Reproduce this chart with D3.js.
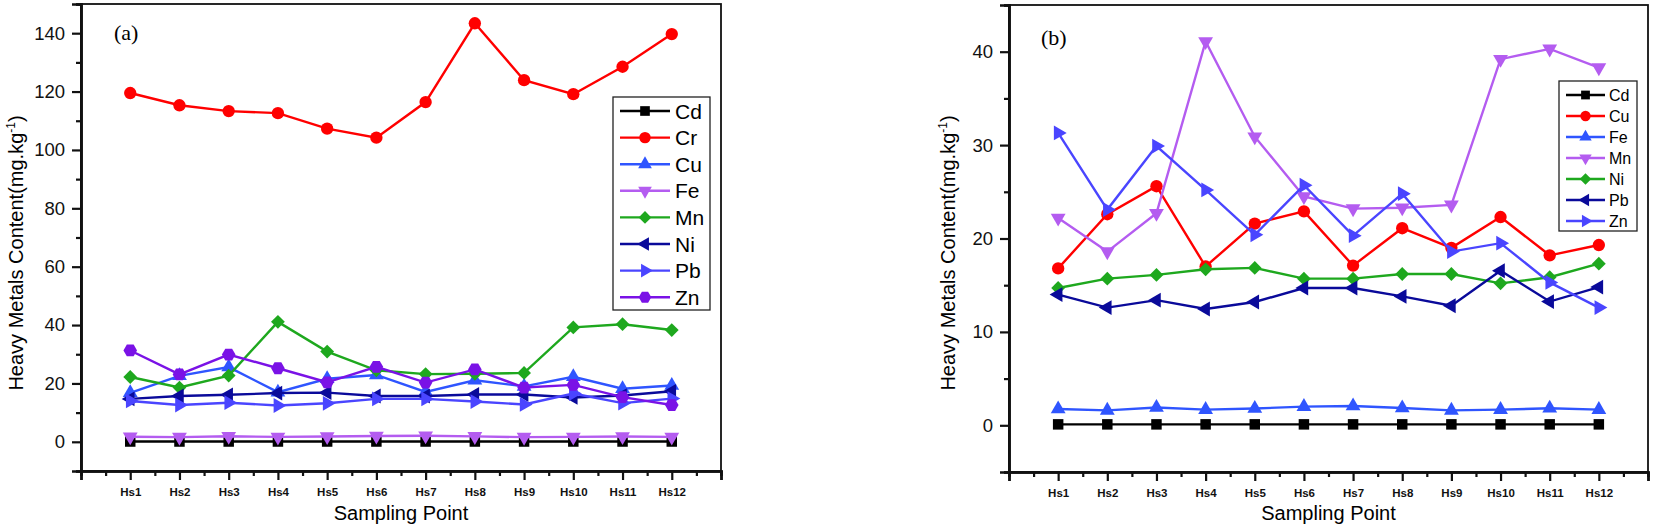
<!DOCTYPE html>
<html>
<head>
<meta charset="utf-8">
<script src="https://cdn.jsdelivr.net/npm/d3@7"></script>
<style>
  body { margin: 0; background: #fff; }
  svg { display: block; font-family: "Liberation Sans", Arial, sans-serif; }
</style>
</head>
<body>
<svg id="chart" width="1654" height="532"></svg>
<script>
// sampling points and measured contents (mg/kg)
const points = ["Hs1", "Hs2", "Hs3", "Hs4", "Hs5", "Hs6", "Hs7", "Hs8", "Hs9", "Hs10", "Hs11", "Hs12"];
const cd = [0.1, 0.1, 0.1, 0.1, 0.1, 0.1, 0.1, 0.1, 0.1, 0.1, 0.1, 0.1];
const cr = [119.5, 115.3, 113.3, 112.6, 107.3, 104.2, 116.4, 143.4, 123.9, 119.1, 128.5, 139.7];
const cu = [16.8, 22.6, 25.6, 17.0, 21.6, 22.9, 17.1, 21.1, 19.0, 22.3, 18.2, 19.3];
const fe = [1.75, 1.6, 1.9, 1.68, 1.8, 2.0, 2.07, 1.86, 1.6, 1.68, 1.82, 1.68];
const mn = [22.2, 18.6, 22.7, 41.1, 30.9, 24.5, 23.2, 23.3, 23.6, 39.2, 40.3, 38.3];
const ni = [14.7, 15.7, 16.1, 16.7, 16.85, 15.7, 15.7, 16.2, 16.2, 15.2, 15.85, 17.3];
const pb = [14.0, 12.6, 13.4, 12.45, 13.2, 14.7, 14.7, 13.8, 12.8, 16.55, 13.25, 14.8];
const zn = [31.3, 23.1, 29.9, 25.2, 20.4, 25.7, 20.3, 24.8, 18.6, 19.5, 15.3, 12.6];

const seriesA = [["Cd", cd], ["Cr", cr], ["Cu", cu], ["Fe", fe], ["Mn", mn], ["Ni", ni], ["Pb", pb], ["Zn", zn]];
const seriesB = [["Cd", cd], ["Cu", cu], ["Fe", fe], ["Mn", mn], ["Ni", ni], ["Pb", pb], ["Zn", zn]];

// Origin style cycle: colour + marker, in plot order
const styleCycle = [
    { color: "#000000", shape: "square" },
    { color: "#ff0000", shape: "circle" },
    { color: "#2f55ff", shape: "up" },
    { color: "#b45cf0", shape: "down" },
    { color: "#1ea81e", shape: "diamond" },
    { color: "#0a0a9a", shape: "left" },
    { color: "#4a45ff", shape: "right" },
    { color: "#7a12e6", shape: "hexagon" }
];

const hexagon = {
    draw(ctx, size) {
        const r = Math.sqrt(size / 2.598);
        for (let i = 0; i < 6; i++) {
            const a = Math.PI / 3 * i;
            const px = r * Math.cos(a), py = r * Math.sin(a);
            if (i === 0) ctx.moveTo(px, py); else ctx.lineTo(px, py);
        }
        ctx.closePath();
    }
};

function markerPath(shape, k) {
    const s = k || 1;
    switch (shape) {
        case "square": return { d: d3.symbol(d3.symbolSquare, 110 * s)(), rot: 0 };
        case "circle": return { d: d3.symbol(d3.symbolCircle, 120 * s)(), rot: 0 };
        case "up": return { d: d3.symbol(d3.symbolTriangle, 95 * s)(), rot: 0 };
        case "down": return { d: d3.symbol(d3.symbolTriangle, 95 * s)(), rot: 180 };
        case "left": return { d: d3.symbol(d3.symbolTriangle, 95 * s)(), rot: -90 };
        case "right": return { d: d3.symbol(d3.symbolTriangle, 95 * s)(), rot: 90 };
        case "diamond": return { d: d3.symbol(d3.symbolSquare, 95 * s)(), rot: 45 };
        case "hexagon": return { d: d3.symbol(hexagon, 120 * s)(), rot: 0 };
    }
}

const svg = d3.select("#chart");

function drawPanel(cfg) {
    const { x0, x1, y0, y1 } = cfg;
    const g = svg.append("g");

    const x = d3.scaleLinear().domain([0, 13]).range([x0, x1]);
    const y = d3.scaleLinear().domain(cfg.yDomain).range([y1, y0]);

    // frame
    g.append("rect")
        .attr("x", x0).attr("y", y0)
        .attr("width", x1 - x0).attr("height", y1 - y0)
        .attr("fill", "none").attr("stroke", "#111").attr("stroke-width", 1.8);

    // x axis: major ticks at each point, minor at halves
    const xAxis = d3.axisBottom(x)
        .tickValues(d3.range(0, 14))
        .tickSize(9)
        .tickFormat(i => (i >= 1 && i <= 12) ? points[i - 1] : "");
    const gx = g.append("g").attr("transform", `translate(0,${y1})`).call(xAxis);
    gx.selectAll(".tick text")
        .attr("dy", "0")
        .attr("y", 25)
        .style("font-size", "11.5px")
        .style("font-weight", "bold")
        .attr("fill", "#111");
    g.append("g").attr("transform", `translate(0,${y1})`)
        .call(d3.axisBottom(x).tickValues(d3.range(0.5, 13, 1)).tickSize(5).tickFormat(""));

    // y axis
    const yAxis = d3.axisLeft(y).tickValues(cfg.yMajor).tickSize(9).tickPadding(7);
    const gy = g.append("g").attr("transform", `translate(${x0},0)`).call(yAxis);
    gy.selectAll(".tick text").style("font-size", "18.5px").attr("fill", "#111");
    g.append("g").attr("transform", `translate(${x0},0)`)
        .call(d3.axisLeft(y).tickValues(cfg.yMinor).tickSize(5).tickFormat(""));

    g.selectAll(".domain").attr("stroke", "#111").attr("stroke-width", 2.6);
    g.selectAll(".tick line").attr("stroke", "#111").attr("stroke-width", 2.2);

    // axis titles
    g.append("text")
        .attr("x", (x0 + x1) / 2).attr("y", 520)
        .attr("text-anchor", "middle")
        .style("font-size", "20px")
        .text("Sampling Point");

    const yl = g.append("text")
        .attr("transform", `translate(${cfg.yLabelX},253) rotate(-90)`)
        .attr("text-anchor", "middle")
        .style("font-size", "20px");
    yl.append("tspan").text("Heavy Metals Content(mg.kg");
    yl.append("tspan").attr("dy", -8).style("font-size", "12px").text("-1");
    yl.append("tspan").attr("dy", 8).text(")");

    // panel tag
    g.append("text")
        .attr("x", cfg.tagX).attr("y", cfg.tagY)
        .style("font-family", "'Liberation Serif', 'Times New Roman', serif")
        .style("font-size", "22px")
        .text(cfg.tag);

    // series
    const line = d3.line().x((d, i) => x(i + 1)).y(d => y(d));
    cfg.series.forEach(([name, values], si) => {
        const st = styleCycle[si];
        g.append("path")
            .attr("d", line(values))
            .attr("fill", "none")
            .attr("stroke", st.color)
            .attr("stroke-width", 2.4);
        const m = markerPath(st.shape);
        g.selectAll(null).data(values).enter().append("path")
            .attr("d", m.d)
            .attr("transform", (d, i) => `translate(${x(i + 1)},${y(d)}) rotate(${m.rot})`)
            .attr("fill", st.color);
    });

    // legend
    const L = cfg.legend;
    const lg = g.append("g");
    lg.append("rect")
        .attr("x", L.x).attr("y", L.y)
        .attr("width", L.w).attr("height", L.h)
        .attr("fill", "#fff").attr("stroke", "#222").attr("stroke-width", 1.3);
    cfg.series.forEach(([name], si) => {
        const st = styleCycle[si];
        const cy = L.y0 + si * L.step;
        lg.append("line")
            .attr("x1", L.lx1).attr("x2", L.lx2)
            .attr("y1", cy).attr("y2", cy)
            .attr("stroke", st.color).attr("stroke-width", 2.4);
        const m = markerPath(st.shape, L.mk);
        lg.append("path")
            .attr("d", m.d)
            .attr("transform", `translate(${(L.lx1 + L.lx2) / 2},${cy}) rotate(${m.rot})`)
            .attr("fill", st.color);
        lg.append("text")
            .attr("x", L.tx).attr("y", cy)
            .attr("dy", "0.36em")
            .style("font-size", L.font + "px")
            .text(name);
    });
}

drawPanel({
    x0: 81, x1: 721, y0: 4, y1: 471,
    yDomain: [-10, 150],
    yMajor: [0, 20, 40, 60, 80, 100, 120, 140],
    yMinor: [-10, 10, 30, 50, 70, 90, 110, 130, 150],
    yLabelX: 23,
    tag: "(a)", tagX: 114, tagY: 40,
    series: seriesA,
    legend: { x: 613, y: 97, w: 97, h: 213, y0: 111, step: 26.6, lx1: 620, lx2: 670, tx: 675, font: 21, mk: 0.85 }
});

drawPanel({
    x0: 1009, x1: 1648, y0: 5, y1: 472,
    yDomain: [-5, 45],
    yMajor: [0, 10, 20, 30, 40],
    yMinor: [-5, 5, 15, 25, 35, 45],
    yLabelX: 955,
    tag: "(b)", tagX: 1041, tagY: 45,
    series: seriesB,
    legend: { x: 1559, y: 81, w: 78, h: 150, y0: 95, step: 21, lx1: 1566, lx2: 1605, tx: 1609, font: 16, mk: 0.7 }
});
</script>
</body>
</html>
